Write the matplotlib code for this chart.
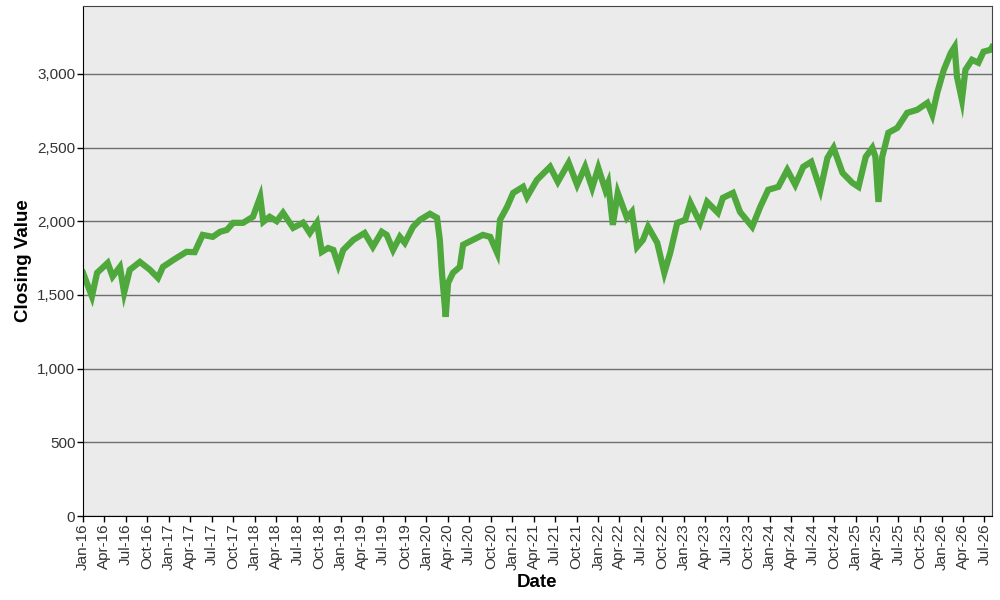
import matplotlib
matplotlib.use('Agg')
import matplotlib.pyplot as plt
import matplotlib.dates as mdates
import matplotlib.ticker as mticker
import pandas as pd

# Closing values
dates = [
    '2016-01-01', '2016-02-08', '2016-03-01', '2016-04-15', '2016-05-06', '2016-06-06',
    '2016-06-24', '2016-07-18', '2016-08-30', '2016-10-12', '2016-11-15', '2016-12-06',
    '2017-01-19', '2017-03-16', '2017-04-20', '2017-05-24', '2017-07-06', '2017-08-06',
    '2017-09-04', '2017-10-01', '2017-11-12', '2017-12-24', '2018-01-24', '2018-02-06',
    '2018-03-05', '2018-04-04', '2018-05-01', '2018-06-13', '2018-07-25', '2018-08-23',
    '2018-09-22', '2018-10-13', '2018-11-09', '2018-12-01', '2018-12-22', '2019-01-12',
    '2019-02-24', '2019-04-13', '2019-05-18', '2019-06-25', '2019-07-16', '2019-08-12',
    '2019-09-10', '2019-10-01', '2019-11-05', '2019-12-04', '2020-01-16', '2020-02-15',
    '2020-02-27', '2020-03-07', '2020-03-23', '2020-04-02', '2020-04-23', '2020-05-22',
    '2020-06-05', '2020-07-16', '2020-08-28', '2020-09-28', '2020-10-28', '2020-11-09',
    '2020-12-09', '2021-01-04', '2021-02-15', '2021-03-04', '2021-04-15', '2021-06-10',
    '2021-07-13', '2021-08-28', '2021-10-03', '2021-11-06', '2021-12-06', '2022-01-01',
    '2022-01-31', '2022-02-12', '2022-03-04', '2022-03-25', '2022-05-03', '2022-05-24',
    '2022-06-15', '2022-07-10', '2022-08-01', '2022-09-09', '2022-10-09', '2022-11-03',
    '2022-12-03', '2023-01-06', '2023-01-28', '2023-03-10', '2023-04-09', '2023-05-25',
    '2023-06-15', '2023-07-28', '2023-08-27', '2023-10-18', '2023-11-21', '2023-12-25',
    '2024-02-06', '2024-03-15', '2024-04-18', '2024-05-22', '2024-06-25', '2024-08-03',
    '2024-09-02', '2024-09-28', '2024-11-05', '2024-12-17', '2025-01-12', '2025-02-12',
    '2025-03-12', '2025-03-25', '2025-04-07', '2025-04-23', '2025-05-19', '2025-06-26',
    '2025-08-07', '2025-09-19', '2025-11-01', '2025-11-22', '2025-12-13', '2026-01-10',
    '2026-02-09', '2026-02-25', '2026-03-07', '2026-03-28', '2026-04-12', '2026-05-10',
    '2026-06-06', '2026-06-28', '2026-07-28', '2026-08-03',
]
closing = [
    1650, 1490, 1650, 1717, 1625, 1690,
    1515, 1670, 1724, 1670, 1615, 1690,
    1737, 1792, 1790, 1907, 1894, 1928,
    1941, 1989, 1989, 2030, 2165, 1996,
    2030, 2000, 2057, 1955, 1990, 1920,
    1990, 1792, 1818, 1805, 1703, 1805,
    1873, 1920, 1826, 1928, 1907, 1805,
    1894, 1853, 1962, 2009, 2050, 2023,
    1873, 1650, 1351, 1581, 1650, 1690,
    1840, 1873, 1907, 1894, 1785, 2009,
    2097, 2192, 2233, 2165, 2280, 2369,
    2267, 2396, 2247, 2369, 2226, 2362,
    2213, 2260, 1975, 2192, 2023, 2063,
    1826, 1873, 1962, 1853, 1650, 1785,
    1989, 2009, 2124, 1989, 2131, 2057,
    2158, 2192, 2063, 1962, 2097, 2213,
    2233, 2348, 2247, 2369, 2403, 2213,
    2430, 2498, 2328, 2260, 2233, 2437,
    2498, 2437, 2131, 2437, 2600, 2633,
    2735, 2756, 2803, 2722, 2871, 3027,
    3143, 3183, 2980, 2824, 3027, 3095,
    3075, 3150, 3163, 3180,
]
y_ticks = [0, 500, 1000, 1500, 2000, 2500, 3000]

df = pd.DataFrame({'Date': pd.to_datetime(dates), 'Close': closing})

plt.rcParams['font.family'] = ['Liberation Sans', 'DejaVu Sans']

fig = plt.figure(figsize=(10, 6), dpi=100)
ax = fig.add_axes([0.083, 0.14, 0.909, 0.85])
ax.set_facecolor('#EBEBEB')

ax.plot(df['Date'], df['Close'], color='#4FA83C', linewidth=4.5, solid_joinstyle='miter')

ax.set_xlim(df['Date'].min(), df['Date'].max())
ax.set_ylim(0, 3460)
ax.set_yticks(y_ticks)
ax.yaxis.set_major_formatter(mticker.FuncFormatter(lambda v, p: f'{int(v):,}'))
ax.grid(axis='y', color='#6E6E6E', linewidth=1)
ax.set_axisbelow(True)

ax.xaxis.set_major_locator(mdates.MonthLocator(bymonth=[1, 4, 7, 10]))
ax.xaxis.set_major_formatter(mdates.DateFormatter('%b-%y'))
plt.setp(ax.get_xticklabels(), rotation=90)

ax.tick_params(axis='both', labelsize=11, colors='#333333', length=4, width=1, pad=1.5)
ax.tick_params(axis='both', color='black')

for side in ['left', 'bottom']:
    ax.spines[side].set_color('black')
for side in ['top', 'right']:
    ax.spines[side].set_color('#444444')

ax.set_xlabel('Date', fontsize=13.5, fontweight='bold', labelpad=3)
ax.set_ylabel('Closing Value', fontsize=13.5, fontweight='bold', labelpad=4)

fig.savefig('out.png', dpi=100)
